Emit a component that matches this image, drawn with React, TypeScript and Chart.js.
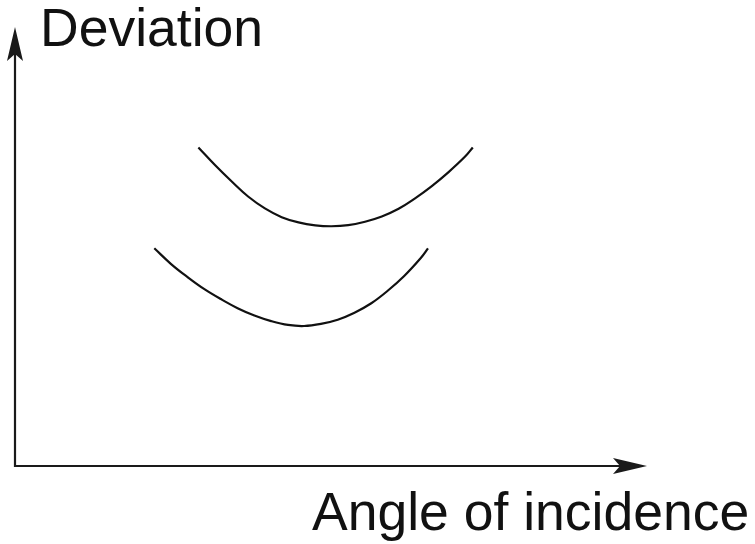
import React, { useEffect, useRef } from "react";
import { Chart, registerables } from "chart.js";

Chart.register(...registerables);

// Deviation (deg) against angle of incidence (deg) for two prisms
const upperAngles = [26.2, 28.6, 31.0, 33.3, 35.7, 38.1, 40.5, 42.9, 45.2, 47.6, 50.0, 52.4, 54.8, 57.1, 59.5, 61.9, 64.3, 65.4];
const upperDeviation = [45.5, 42.95, 40.6, 38.5, 36.8, 35.55, 34.8, 34.38, 34.25, 34.4, 34.9, 35.65, 36.75, 38.2, 39.95, 41.95, 44.2, 45.5];

const lowerAngles = [19.9, 22.3, 24.7, 27.0, 29.4, 31.8, 34.2, 36.6, 39.0, 41.3, 43.7, 46.1, 48.5, 50.9, 53.2, 55.6, 58.0, 59.0];
const lowerDeviation = [31.1, 28.85, 26.95, 25.3, 23.85, 22.55, 21.5, 20.7, 20.15, 20.0, 20.3, 20.9, 21.9, 23.25, 25.0, 27.15, 29.75, 31.1];

const xTitle = "Angle of incidence";
const yTitle = "Deviation";

const X_MAX = 90;
const Y_MAX = 60;

const toPoints = (xs: number[], ys: number[]) => xs.map((x, i) => ({ x, y: ys[i] }));

const axesPlugin = {
  id: "arrowAxes",
  afterDraw(chart: any) {
    const { ctx, chartArea } = chart;
    const { left, bottom, right } = chartArea;
    const ink = "#1a1a1a";
    const yTip = 27;
    const xTip = right + 2;
    ctx.save();
    ctx.strokeStyle = ink;
    ctx.fillStyle = ink;
    ctx.lineWidth = 2.2;
    ctx.lineCap = "butt";
    // axis lines
    ctx.beginPath();
    ctx.moveTo(left, yTip + 20);
    ctx.lineTo(left, bottom);
    ctx.lineTo(xTip - 20, bottom);
    ctx.stroke();
    // vertical arrowhead
    ctx.beginPath();
    ctx.moveTo(left, yTip);
    ctx.lineTo(left + 8, yTip + 34);
    ctx.lineTo(left, yTip + 27);
    ctx.lineTo(left - 8, yTip + 34);
    ctx.closePath();
    ctx.fill();
    // horizontal arrowhead
    ctx.beginPath();
    ctx.moveTo(xTip, bottom);
    ctx.lineTo(xTip - 34, bottom - 8);
    ctx.lineTo(xTip - 27, bottom);
    ctx.lineTo(xTip - 34, bottom + 8);
    ctx.closePath();
    ctx.fill();
    // titles
    ctx.fillStyle = "#111";
    ctx.font = '53.5px "Liberation Sans", Arial, sans-serif';
    ctx.textBaseline = "alphabetic";
    ctx.textAlign = "left";
    ctx.fillText(yTitle, 40, 46);
    ctx.fillText(xTitle, 312, 530);
    ctx.restore();
  },
};

export default function App() {
  const canvasRef = useRef<HTMLCanvasElement>(null);

  useEffect(() => {
    const canvas = canvasRef.current;
    if (!canvas) return;
    const lineStyle = {
      borderColor: "#111",
      borderWidth: 2.2,
      pointRadius: 0,
      fill: false,
      tension: 0.4,
      clip: false as const,
    };
    const chart = new Chart(canvas, {
      type: "line",
      data: {
        datasets: [
          { label: "Prism A", data: toPoints(upperAngles, upperDeviation), ...lineStyle },
          { label: "Prism B", data: toPoints(lowerAngles, lowerDeviation), ...lineStyle },
        ],
      },
      options: {
        responsive: false,
        animation: false,
        layout: { padding: { left: 15, right: 110, top: 46, bottom: 78 } },
        scales: {
          x: { type: "linear", min: 0, max: X_MAX, display: false },
          y: { type: "linear", min: 0, max: Y_MAX, display: false },
        },
        plugins: {
          legend: { display: false },
          tooltip: { enabled: false },
          title: { display: false },
        },
      },
      plugins: [axesPlugin],
    });
    return () => chart.destroy();
  }, []);

  return (
    <div style={{ position: "fixed", left: 0, top: 0, width: 755, height: 544, background: "#fff" }}>
      <canvas ref={canvasRef} width={755} height={544} style={{ display: "block" }} />
    </div>
  );
}
